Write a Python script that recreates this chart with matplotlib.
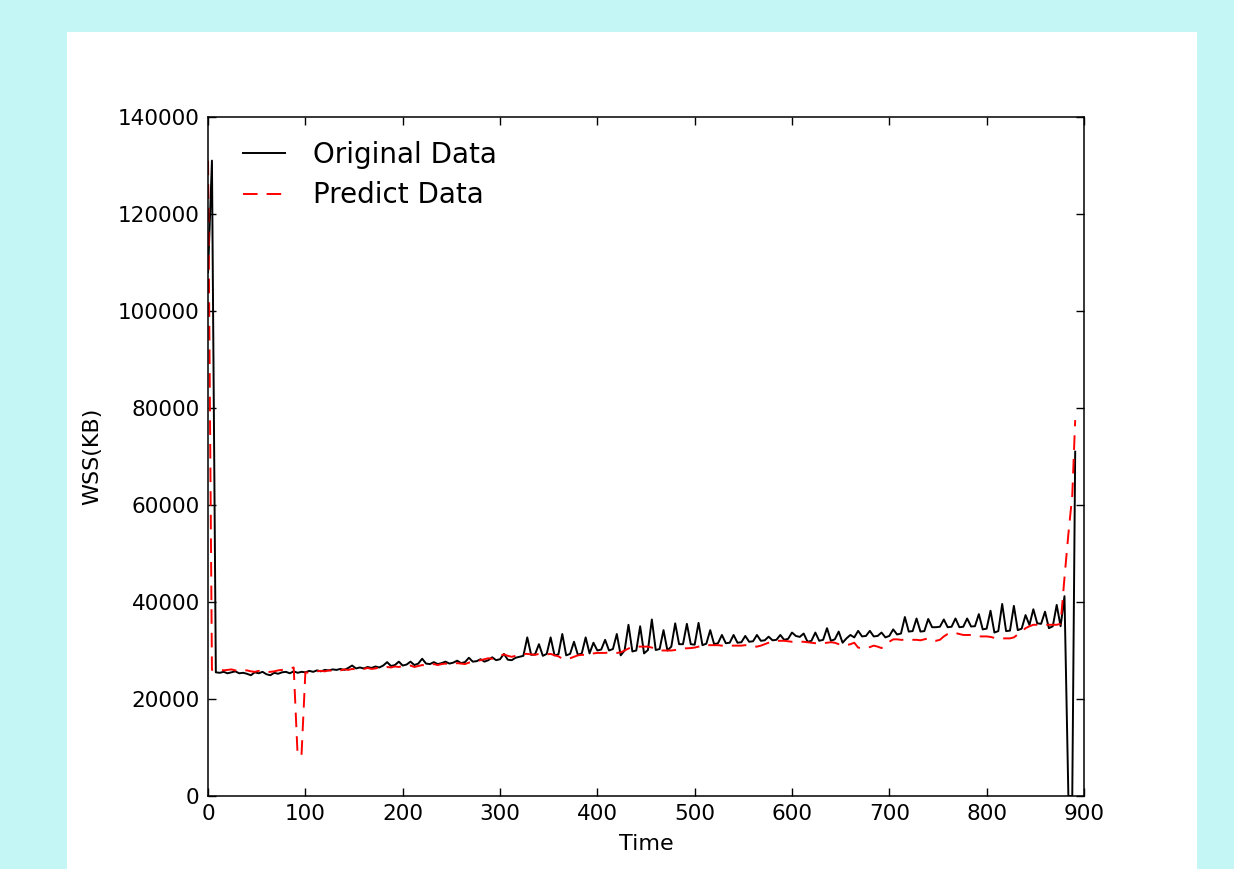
import numpy as np
import matplotlib
matplotlib.use("Agg")
import matplotlib.pyplot as plt
from matplotlib.patches import Rectangle

# time axis: one sample every 4 steps, plus the irregular tail at the end
time_main = np.arange(0, 880, 4)
time_tail = [880, 884, 888, 891]
time = np.concatenate([time_main, time_tail])

# original WSS (KB), rows of 10 samples = 40 time units
original_main = [
    108000, 131000, 25500, 25400, 25600, 25300, 25500, 25700, 25300, 25400,
    25200, 24900, 25500, 25300, 25600, 25100, 24900, 25400, 25200, 25500,
    25600, 25300, 25700, 25400, 25600, 25500, 25800, 25600, 25900, 25700,
    26000, 25900, 26100, 26000, 26200, 26000, 26400, 26900, 26300, 26500,
    26300, 26600, 26400, 26700, 26500, 26900, 27600, 26800, 27000, 27700,
    26900, 27100, 27700, 27000, 27300, 28300, 27300, 27200, 27600, 27200,
    27400, 27700, 27300, 27500, 27900, 27400, 27600, 28500, 27700, 27800,
    28200, 27700, 28000, 28600, 28000, 28200, 29300, 28100, 28000, 28500,
    28700, 28900, 32700, 29100, 29200, 31300, 28900, 29300, 32700, 29000,
    29200, 33400, 29000, 29300, 31800, 29100, 29400, 32700, 29400, 31600,
    30000, 30200, 32200, 30000, 30300, 33400, 29000, 30000, 35300, 29800,
    30000, 35000, 29400, 30100, 36400, 30100, 30300, 34200, 30000, 30800,
    35600, 31300, 31300, 35500, 31300, 31200, 35700, 31100, 31400, 34200,
    31300, 31500, 33200, 31500, 31600, 33200, 31600, 31700, 33000, 31800,
    31900, 33200, 32000, 32100, 32850, 32100, 32200, 33200, 32200, 32400,
    33700, 33000, 32800, 33500, 31800, 32000, 33700, 32000, 32200, 34600,
    32000, 32300, 33900, 31600, 32500, 33200, 32700, 34050, 32900, 33000,
    34050, 32900, 33000, 33700, 32700, 33000, 34350, 33300, 33500, 36900,
    33900, 34000, 36600, 33900, 34000, 36500, 34800, 34800, 34900, 36400,
    34800, 34900, 36600, 34800, 34900, 36600, 34950, 35000, 37500, 34350,
    34500, 38200, 33700, 34000, 39600, 34000, 34100, 39200, 34200, 34500,
    37300, 35260, 38500, 35600, 35500, 38000, 34600, 35000, 39400, 35000,
]
original_tail = [41200, 0, 0, 71000]

# predicted WSS (KB)
predict_main = [
    131000, 26000, 26000, 26100, 25900, 26000, 26100, 25900, 25800, 25900,
    25900, 25700, 25600, 25800, 25700, 25500, 25600, 25700, 25900, 26000,
    26200, 26300, 26500, 8500, 8300, 25500, 25400, 25600, 25700, 25800,
    25700, 25900, 25800, 26000, 25900, 26100, 26000, 26200, 26100, 26300,
    26200, 26400, 26200, 26300, 26500, 26400, 26600, 26500, 26700, 26600,
    26800, 26700, 26900, 26600, 26800, 27000, 26900, 27100, 27200, 27000,
    27200, 27300, 27100, 27200, 27400, 27300, 27200, 27500, 27600, 27800,
    28000, 28200, 28400, 28300, 28500, 28900, 29200, 28900, 28700, 28900,
    29100, 29300, 29300, 29200, 29100, 29300, 29300, 29200, 29300, 29000,
    28800, 28300, 28200, 28400, 28700, 29000, 29100, 29100, 29200, 29400,
    29500, 29500, 29500, 29600, 29500, 29500, 29600, 30000, 30400, 30800,
    30800, 30800, 30800, 30800, 30600, 30300, 30000, 30000, 30000, 30000,
    30100, 30300, 30450, 30450, 30500, 30600, 30800, 31000, 31100, 31100,
    31100, 31100, 31000, 31000, 31000, 31000, 31000, 31000, 31100, 31000,
    30800, 30800, 31000, 31300, 31600, 31900, 32000, 32000, 32000, 31900,
    31800, 31800, 31800, 31800, 31700, 31600, 31500, 31500, 31500, 31600,
    31700, 31600, 31300, 31100, 31100, 31300, 31600, 30600, 30450, 30500,
    30700, 31000, 30800, 30500, 31000, 31800, 32300, 32300, 32200, 32200,
    32200, 32200, 32200, 32100, 32300, 32500, 32100, 32000, 32200, 32900,
    33400, 33700, 33600, 33400, 33200, 33200, 33200, 33100, 32900, 32900,
    32900, 32800, 32600, 32500, 32500, 32500, 32500, 32700, 33300, 33900,
    34600, 35000, 35300, 35300, 35300, 35300, 35300, 35300, 35300, 35500,
]
predict_tail = [45000, 54000, 62000, 77500]

original = np.array(original_main + original_tail)
predict = np.array(predict_main + predict_tail)

plt.rcParams["font.family"] = "DejaVu Sans"
plt.rcParams["lines.scale_dashes"] = False

fig = plt.figure(figsize=(12.34, 8.69), dpi=100)
fig.patch.set_facecolor("#c3f6f5")
# white figure panel sitting inside the cyan page
fig.patches.append(Rectangle((0.0543, 0.0), 0.9157, 0.9632, transform=fig.transFigure,
                             facecolor="white", edgecolor="none", zorder=-10))

ax = fig.add_axes([0.1686, 0.0840, 0.7098, 0.7814])
ax.plot(time, original, color="k", lw=1.4, label="Original Data")
ax.plot(time, predict, color="r", lw=1.4, linestyle=(0, (10.5, 6.5)), label="Predict Data")

ax.set_xlim(0, 900)
ax.set_ylim(0, 140000)
ax.set_xticks(np.arange(0, 901, 100))
ax.set_yticks(np.arange(0, 140001, 20000))
ax.tick_params(direction="in", top=True, right=True, length=6, width=1.0,
               labelsize=15.5, pad=6)
for s in ax.spines.values():
    s.set_linewidth(1.1)
ax.set_xlabel("Time", fontsize=16, labelpad=7)
ax.set_ylabel("WSS(KB)", fontsize=16, labelpad=11)

ax.legend(loc="upper left", bbox_to_anchor=(0.0274, 0.981), frameon=False,
          fontsize=20, handlelength=1.5, handletextpad=1.0, labelspacing=0.45,
          borderaxespad=0.0, borderpad=0.4)

fig.savefig("out.png", dpi=100, facecolor=fig.get_facecolor())
